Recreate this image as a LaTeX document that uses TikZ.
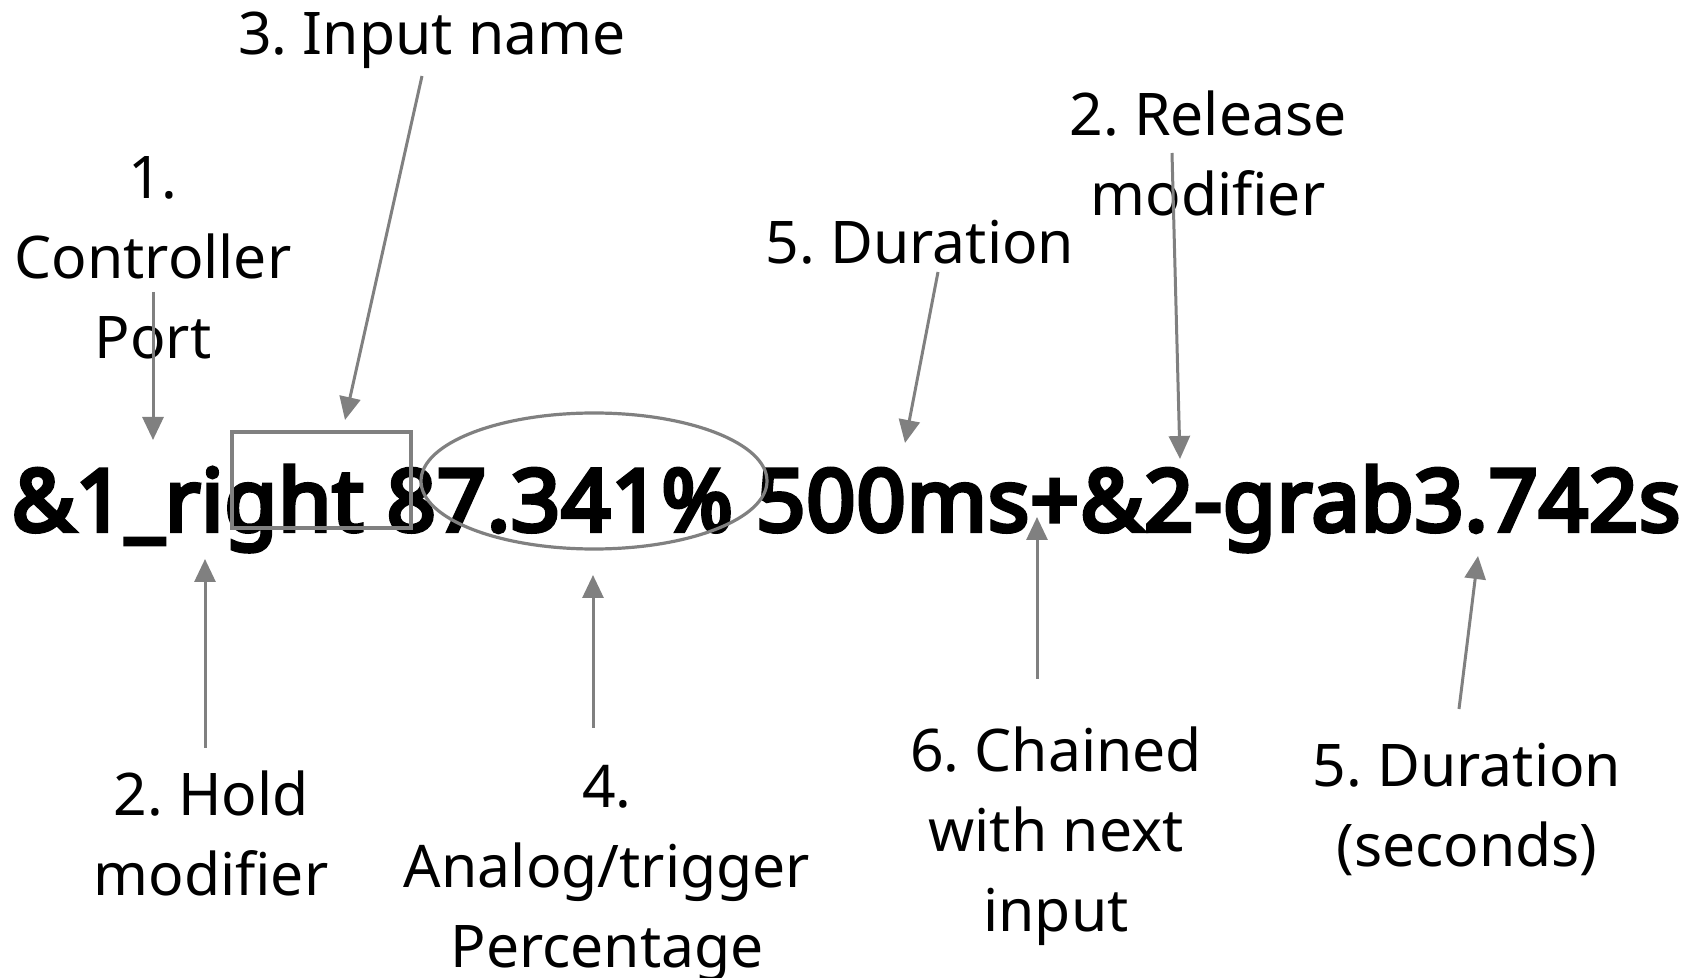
\documentclass[tikz,border=0pt]{standalone}
\usepackage{fontspec}
\setmainfont{Noto Sans}
\newfontfamily\heavyfont{Noto Sans}[FakeBold=5,LetterSpace=1.1]
\frenchspacing
\usetikzlibrary{arrows.meta,shapes.geometric}
\definecolor{linegray}{RGB}{128,128,128}
\begin{document}
\begin{tikzpicture}[x=0.5pt,y=-0.5pt,
  lbl/.style={inner sep=0pt,align=center,font=\fontsize{29.4}{40}\selectfont},
  arr/.style={draw=linegray,line width=1.5pt,-{Triangle[length=11.5pt,width=10.5pt]}},
  hlmark/.style={draw=linegray,line width=1.6pt}]
\useasboundingbox (0,0) rectangle (1694,978);
% main text
\node[inner sep=0pt,anchor=base,font=\heavyfont\fontsize{43}{50}\selectfont] (main) at (846,531) {\&1\_right 87.341\% 500ms+\&2-grab3.742s};
% highlight shapes
\node[hlmark,rectangle,inner sep=0pt,minimum width=89.5pt,minimum height=48pt] (box) at (321.5,480) {};
\node[hlmark,ellipse,inner sep=0pt,minimum width=173pt,minimum height=68pt] (ell) at (594,481) {};
% labels (base anchor = baseline of the last line)
\node[lbl,anchor=base] (lin) at (432,55) {3. Input name};
\node[lbl,anchor=base] (lcp) at (153,359) {1.\\Controller\\Port};
\node[lbl,anchor=base] (lrel) at (1208,216) {2. Release\\modifier};
\node[lbl,anchor=base] (ldur) at (920,264) {5. Duration};
\node[lbl,anchor=base] (lhold) at (211,895) {2. Hold\\modifier};
\node[lbl,anchor=base] (lana) at (607,967) {4.\\Analog/trigger\\Percentage};
\node[lbl,anchor=base] (lch) at (1056,931) {6. Chained\\with next\\input};
\node[lbl,anchor=base] (lds) at (1467,866) {5. Duration\\(seconds)};
% arrow ends
\coordinate (cpT) at (153,292); \coordinate (cpH) at (153,440);
\coordinate (inT) at (422,76);  \coordinate (inH) at (345,420);
\coordinate (duT) at (938,272); \coordinate (duH) at (905,443);
\coordinate (reT) at (1172,153); \coordinate (reH) at (1180,459);
\coordinate (hoT) at (205,748); \coordinate (hoH) at (205,559);
\coordinate (anT) at (593,728); \coordinate (anH) at (593,575);
\coordinate (chT) at (1037,679); \coordinate (chH) at (1037,517);
\coordinate (dsT) at (1459,709); \coordinate (dsH) at (1478,556);
\draw[arr] (cpT) -- (cpH);
\draw[arr] (inT) -- (inH);
\draw[arr] (duT) -- (duH);
\draw[arr] (reT) -- (reH);
\draw[arr] (hoT) -- (hoH);
\draw[arr] (anT) -- (anH);
\draw[arr] (chT) -- (chH);
\draw[arr] (dsT) -- (dsH);
\end{tikzpicture}
\end{document}
